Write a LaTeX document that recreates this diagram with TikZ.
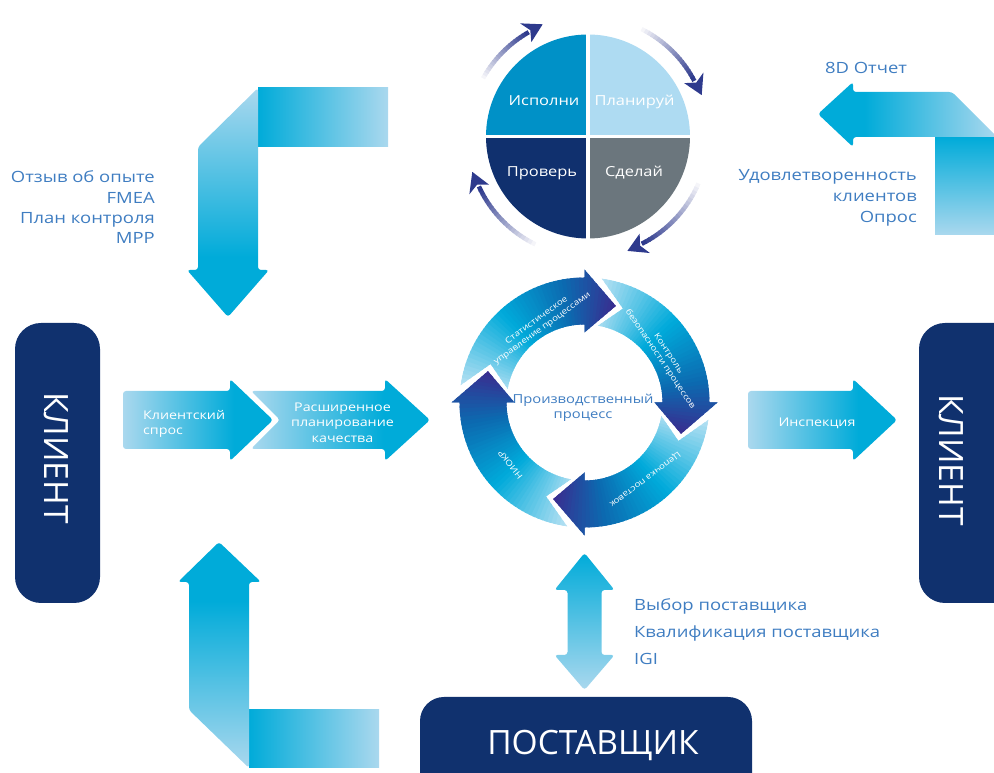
\documentclass[tikz,border=0pt]{standalone}
\usepackage{fontspec}
\setmainfont{Open Sans}[FakeStretch=1.19]
\newfontfamily\boxfont{Open Sans}
\usetikzlibrary{arrows.meta}

\definecolor{navy}{HTML}{10316E}
\definecolor{lblue}{HTML}{3F7DC1}
\definecolor{cy}{HTML}{00ABD9}
\definecolor{lt}{HTML}{AAD8EE}
\definecolor{q1}{HTML}{0091C7}
\definecolor{q2}{HTML}{AEDBF2}
\definecolor{q3}{HTML}{10306E}
\definecolor{q4}{HTML}{6B767D}
\definecolor{arcN}{HTML}{2E3A8D}
\definecolor{ringL}{HTML}{BDE3F4}
\definecolor{ringC}{HTML}{00AADA}
\definecolor{ringB}{HTML}{0C6AB0}
\definecolor{ringP}{HTML}{3B2A8E}

% light -> cyan, cyan reached before the arrow head
\pgfdeclarehorizontalshading{fadeR}{100bp}{color(0bp)=(lt); color(25bp)=(lt); color(62bp)=(cy); color(100bp)=(cy)}
% plain light -> cyan
\pgfdeclarehorizontalshading{linR}{100bp}{color(0bp)=(lt); color(25bp)=(lt); color(75bp)=(cy); color(100bp)=(cy)}

\begin{document}
\begin{tikzpicture}[x=1pt,y=1pt,
  lbl/.style={text=lblue, font=\fontsize{15.5}{20}\selectfont, inner sep=0},
  boxtxt/.style={text=white, font=\boxfont\fontsize{33.5}{36}\selectfont, inner sep=0},
  arrtxt/.style={text=white, font=\fontsize{12}{15}\selectfont, inner sep=0},
  ringtxt/.style={text=white, font=\fontsize{8.2}{9.8}\selectfont, align=center, inner sep=0},
  quad/.style={text=white, font=\fontsize{13.8}{16}\selectfont, inner sep=0},
  flow/.style={shading=fadeR, shading angle=#1},
  band/.style={shading=linR, shading angle=#1},
  headround/.style={rounded corners=3},
]
\useasboundingbox (0,0) rectangle (994,773);
\clip (0,0) rectangle (994,773);

% ---------- client and supplier boxes ----------
\fill[navy, rounded corners=26] (15,170) rectangle (100,450);
\node[boxtxt, rotate=-90] (clientL) at (56,315) {КЛИЕНТ};
\fill[navy, rounded corners=26] (919,170) rectangle (1020,450);
\node[boxtxt, rotate=-90] (clientR) at (951,313) {КЛИЕНТ};
\fill[navy, rounded corners=24] (420,-40) rectangle (752,76);
\node[boxtxt, anchor=base] (supplier) at (593,18) {ПОСТАВЩИК};

% ---------- horizontal process arrows ----------
\shade[flow=0, headround] (123,324) -- (230,324) -- (230,312) -- (273,353) -- (230,394) -- (230,382) -- (123,382) -- cycle;
\shade[flow=0, headround] (251,382) -- (385,382) -- (385,394) -- (430,353) -- (385,312) -- (385,324) -- (251,324) -- (280,353) -- cycle;
\shade[flow=0, headround] (748,324) -- (853,324) -- (853,312) -- (897,353) -- (853,394) -- (853,382) -- (748,382) -- cycle;

\node[arrtxt, anchor=base west] (dem1) at (143,353) {Клиентский};
\node[arrtxt, anchor=base west] (dem2) at (143,338) {спрос};
\node[arrtxt, anchor=base] (apq1) at (342.5,361) {Расширенное};
\node[arrtxt, anchor=base] (apq2) at (342.5,346) {планирование};
\node[arrtxt, anchor=base] (apq3) at (342.5,330) {качества};
\node[arrtxt, anchor=base] (insp) at (817,346) {Инспекция};

% ---------- supplier double arrow ----------
\shade[band=90, headround] (584.5,220) -- (614.5,183) -- (601.5,183) -- (601.5,118) -- (614.5,118) -- (584.5,83) -- (554.5,118) -- (567.5,118) -- (567.5,183) -- (554.5,183) -- cycle;
\node[lbl, anchor=base west] (sup1) at (634,162) {Выбор поставщика};
\node[lbl, anchor=base west] (sup2) at (634,135) {Квалификация поставщика};
\node[lbl, anchor=base west] (sup3) at (634,108) {IGI};

% ---------- top-left bent arrow ----------
\shade[band=180] (258,626) rectangle (388,685);
\shade[flow=-90, headround] (198,626) -- (258,685) -- (258,503) -- (269,503) -- (228,456) -- (187,503) -- (198,503) -- cycle;
\node[lbl, anchor=base east] (fb1) at (155,590) {Отзыв об опыте};
\node[lbl, anchor=base east] (fb2) at (155,569) {FMEA};
\node[lbl, anchor=base east] (fb3) at (155,549) {План контроля};
\node[lbl, anchor=base east] (fb4) at (155,529) {MPP};

% ---------- bottom-left bent arrow ----------
\shade[band=180] (249,5) rectangle (379,63);
\shade[flow=90, headround] (189,63) -- (249,5) -- (249,191) -- (261,191) -- (219,231) -- (178,191) -- (189,191) -- cycle;

% ---------- top-right bent arrow ----------
\shade[band=90] (935,538) rectangle (1000,636);
\shade[flow=180, headround] (818,659) -- (853,691) -- (853,681) -- (952,681) -- (997,636) -- (853,636) -- (853,626) -- cycle;
\node[lbl, anchor=base] (rep8d) at (866,699) {8D Отчет};
\node[lbl, anchor=base east] (sat1) at (917,592) {Удовлетворенность};
\node[lbl, anchor=base east] (sat2) at (917,571) {клиентов};
\node[lbl, anchor=base east] (sat3) at (917,550) {Опрос};

% ---------- PDCA wheel ----------
\begin{scope}[shift={(588,636.5)}]
  \fill[q1] (0,0) -- (180:102) arc[start angle=180, end angle=90, radius=102] -- cycle;
  \fill[q2] (0,0) -- (90:102) arc[start angle=90, end angle=0, radius=102] -- cycle;
  \fill[q3] (0,0) -- (180:102) arc[start angle=180, end angle=270, radius=102] -- cycle;
  \fill[q4] (0,0) -- (270:102) arc[start angle=270, end angle=360, radius=102] -- cycle;
  \draw[white, line width=3.5] (-106,0) -- (106,0) (0,-106) -- (0,106);
  % circulating arrows around the wheel
  \foreach \s/\T in {151/112, 63.5/20, -23/-71, -116/-163}{
    \pgfmathsetmacro\e{\T+8}
    \foreach \i in {0,...,19}{
      \pgfmathsetmacro\aa{\s-(\s-\e)*\i/20}
      \pgfmathsetmacro\bb{\s-(\s-\e)*(\i+1)/20-0.4}
      \pgfmathtruncatemacro\p{5*\i+5}
      \draw[arcN!\p!white, line width=4.5] (\aa:120) arc[start angle=\aa, end angle=\bb, radius=120];
    }
    \fill[arcN] (\T+9:110) -- (\T:121) -- (\T+9:132) -- (\T+6.5:121) -- cycle;
  }
\end{scope}
\node[quad, anchor=base] (act) at (544,667) {Исполни};
\node[quad, anchor=base] (plan) at (634.5,667) {Планируй};
\node[quad, anchor=base] (check) at (542,596) {Проверь};
\node[quad, anchor=base] (do) at (634,596) {Сделай};

% ---------- production process ring ----------
\begin{scope}[shift={(584.5,370.5)}]
  \foreach \B in {90,0,-90,-180}{
    \begin{scope}
      \clip (\B+82:125) arc[start angle=\B+82, end angle=\B, radius=125]
        -- (\B:133) -- (\B-18:101.5) -- (\B:70) -- (\B:78)
        arc[start angle=\B, end angle=\B+80, radius=78]
        -- (\B+67.7:101.5) -- cycle;
      \foreach \i in {0,...,51}{
        \pgfmathsetmacro\a{\B+84-2*\i}
        \pgfmathsetmacro\t{\i/51}
        \ifdim\t pt<0.4pt
          \pgfmathtruncatemacro\p{\t/0.4*100}
          \colorlet{slc}{ringC!\p!ringL}
        \else\ifdim\t pt<0.72pt
          \pgfmathtruncatemacro\p{(\t-0.4)/0.32*100}
          \colorlet{slc}{ringB!\p!ringC}
        \else
          \pgfmathtruncatemacro\p{(\t-0.72)/0.28*100}
          \colorlet{slc}{ringP!\p!ringB}
        \fi\fi
        \fill[slc] (0,0) -- (\a+0.6:145) arc[start angle=\a+0.6, end angle=\a-2.6, radius=145] -- cycle;
      }
    \end{scope}
  }
  \node[ringtxt, rotate=36] (spc) at (120:90) {Статистическое\\управление процессами};
  \node[ringtxt, rotate=-56] (safe) at (30:92) {Контроль\\безопасности процессов};
  \node[ringtxt, rotate=-143] (chain) at (-52:98) {Цепочка поставок};
  \node[ringtxt, rotate=128] (rnd) at (-140:97) {НИОКР};
\end{scope}
\node[text=lblue, font=\fontsize{12.4}{15}\selectfont, inner sep=0, anchor=base] (prod1) at (583,369) {Производственный};
\node[text=lblue, font=\fontsize{12.4}{15}\selectfont, inner sep=0, anchor=base] (prod2) at (583,354) {процесс};
\end{tikzpicture}
\end{document}
